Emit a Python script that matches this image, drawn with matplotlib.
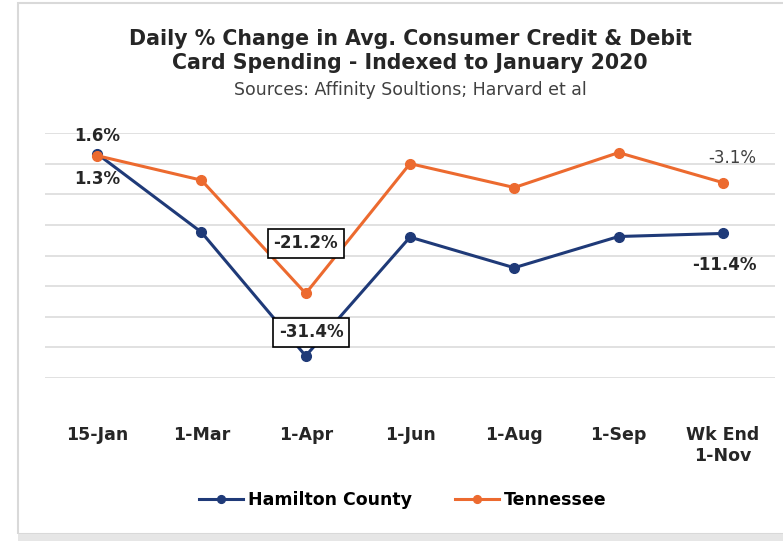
import matplotlib
matplotlib.use("Agg")
import matplotlib.pyplot as plt
from matplotlib.patches import Rectangle

dates = ["15-Jan", "1-Mar", "1-Apr", "1-Jun", "1-Aug", "1-Sep", "Wk End\n1-Nov"]
hamilton = [1.6, -11.2, -31.4, -12.0, -17.0, -11.9, -11.4]
tennessee = [1.3, -2.7, -21.2, 0.0, -3.9, 1.8, -3.1]

NAVY = "#1f3a78"
ORANGE = "#ec6a2f"
TXT = "#262626"

fig = plt.figure(figsize=(7.83, 5.41), dpi=100)
ax = fig.add_axes([45 / 783, 1 - 378 / 541, 730 / 783, 245 / 541])

x = list(range(len(dates)))
ax.plot(x, hamilton, "o-", color=NAVY, lw=2.2, ms=7, label="Hamilton County", zorder=3)
ax.plot(x, tennessee, "o-", color=ORANGE, lw=2.2, ms=7, label="Tennessee", zorder=3)

ax.set_xlim(-0.5, len(dates) - 0.5)
ax.set_ylim(-35, 5)
ax.set_yticks(range(-35, 6, 5))
ax.yaxis.grid(True, color="#dcdcdc", lw=1.2)
ax.set_axisbelow(True)
ax.tick_params(axis="y", left=False, labelleft=False)
ax.tick_params(axis="x", bottom=False, pad=31, labelsize=12.5, labelcolor=TXT)
ax.set_xticks(x, dates, fontweight="bold")
for s in ax.spines.values():
    s.set_visible(False)

lab = dict(textcoords="offset points", ha="center", va="center",
           fontsize=12, color=TXT, fontweight="bold")
ax.annotate(f"{hamilton[0]:.1f}%", (0, hamilton[0]), xytext=(0, 13), **lab)
ax.annotate(f"{tennessee[0]:.1f}%", (0, tennessee[0]), xytext=(0, -17), **lab)
box = dict(boxstyle="square,pad=0.35", fc="white", ec="black", lw=1.2)
ax.annotate(f"{tennessee[2]:.1f}%", (2, tennessee[2]), xytext=(0, 36), bbox=box, zorder=5, **lab)
ax.annotate(f"{hamilton[2]:.1f}%", (2, hamilton[2]), xytext=(4, 17), bbox=box, zorder=5, **lab)
ax.annotate(f"{tennessee[6]:.1f}%", (6, tennessee[6]), xytext=(7, 18),
            textcoords="offset points", ha="center", va="center", fontsize=12, color="#404040")
ax.annotate(f"{hamilton[6]:.1f}%", (6, hamilton[6]), xytext=(1, -23), **lab)

fig.text(410 / 783, 1 - 51 / 541, "Daily % Change in Avg. Consumer Credit & Debit\n"
         "Card Spending - Indexed to January 2020",
         ha="center", va="center", fontsize=14.8, fontweight="bold", color=TXT, linespacing=1.2)
fig.text(410 / 783, 1 - 90 / 541, "Sources: Affinity Soultions; Harvard et al",
         ha="center", va="center", fontsize=12.5, color="#404040")

fig.legend(loc="center", bbox_to_anchor=(403 / 783, 1 - 500 / 541), ncol=2, frameon=False,
           handlelength=2.5, columnspacing=2.5, handletextpad=0.3, markerscale=0.8,
           prop={"weight": "bold", "size": 12.5})

# light frame around the chart, grey band at the bottom
fig.patches.append(Rectangle((18 / 783, 1 - 534 / 541), 2, 531 / 541, transform=fig.transFigure,
                             fill=False, ec="#d9d9d9", lw=1.5))
fig.patches.append(Rectangle((18 / 783, 0), 2, 1 - 534 / 541, transform=fig.transFigure,
                             fc="#e6e6e6", ec="none"))

fig.savefig("out.png", dpi=100)
